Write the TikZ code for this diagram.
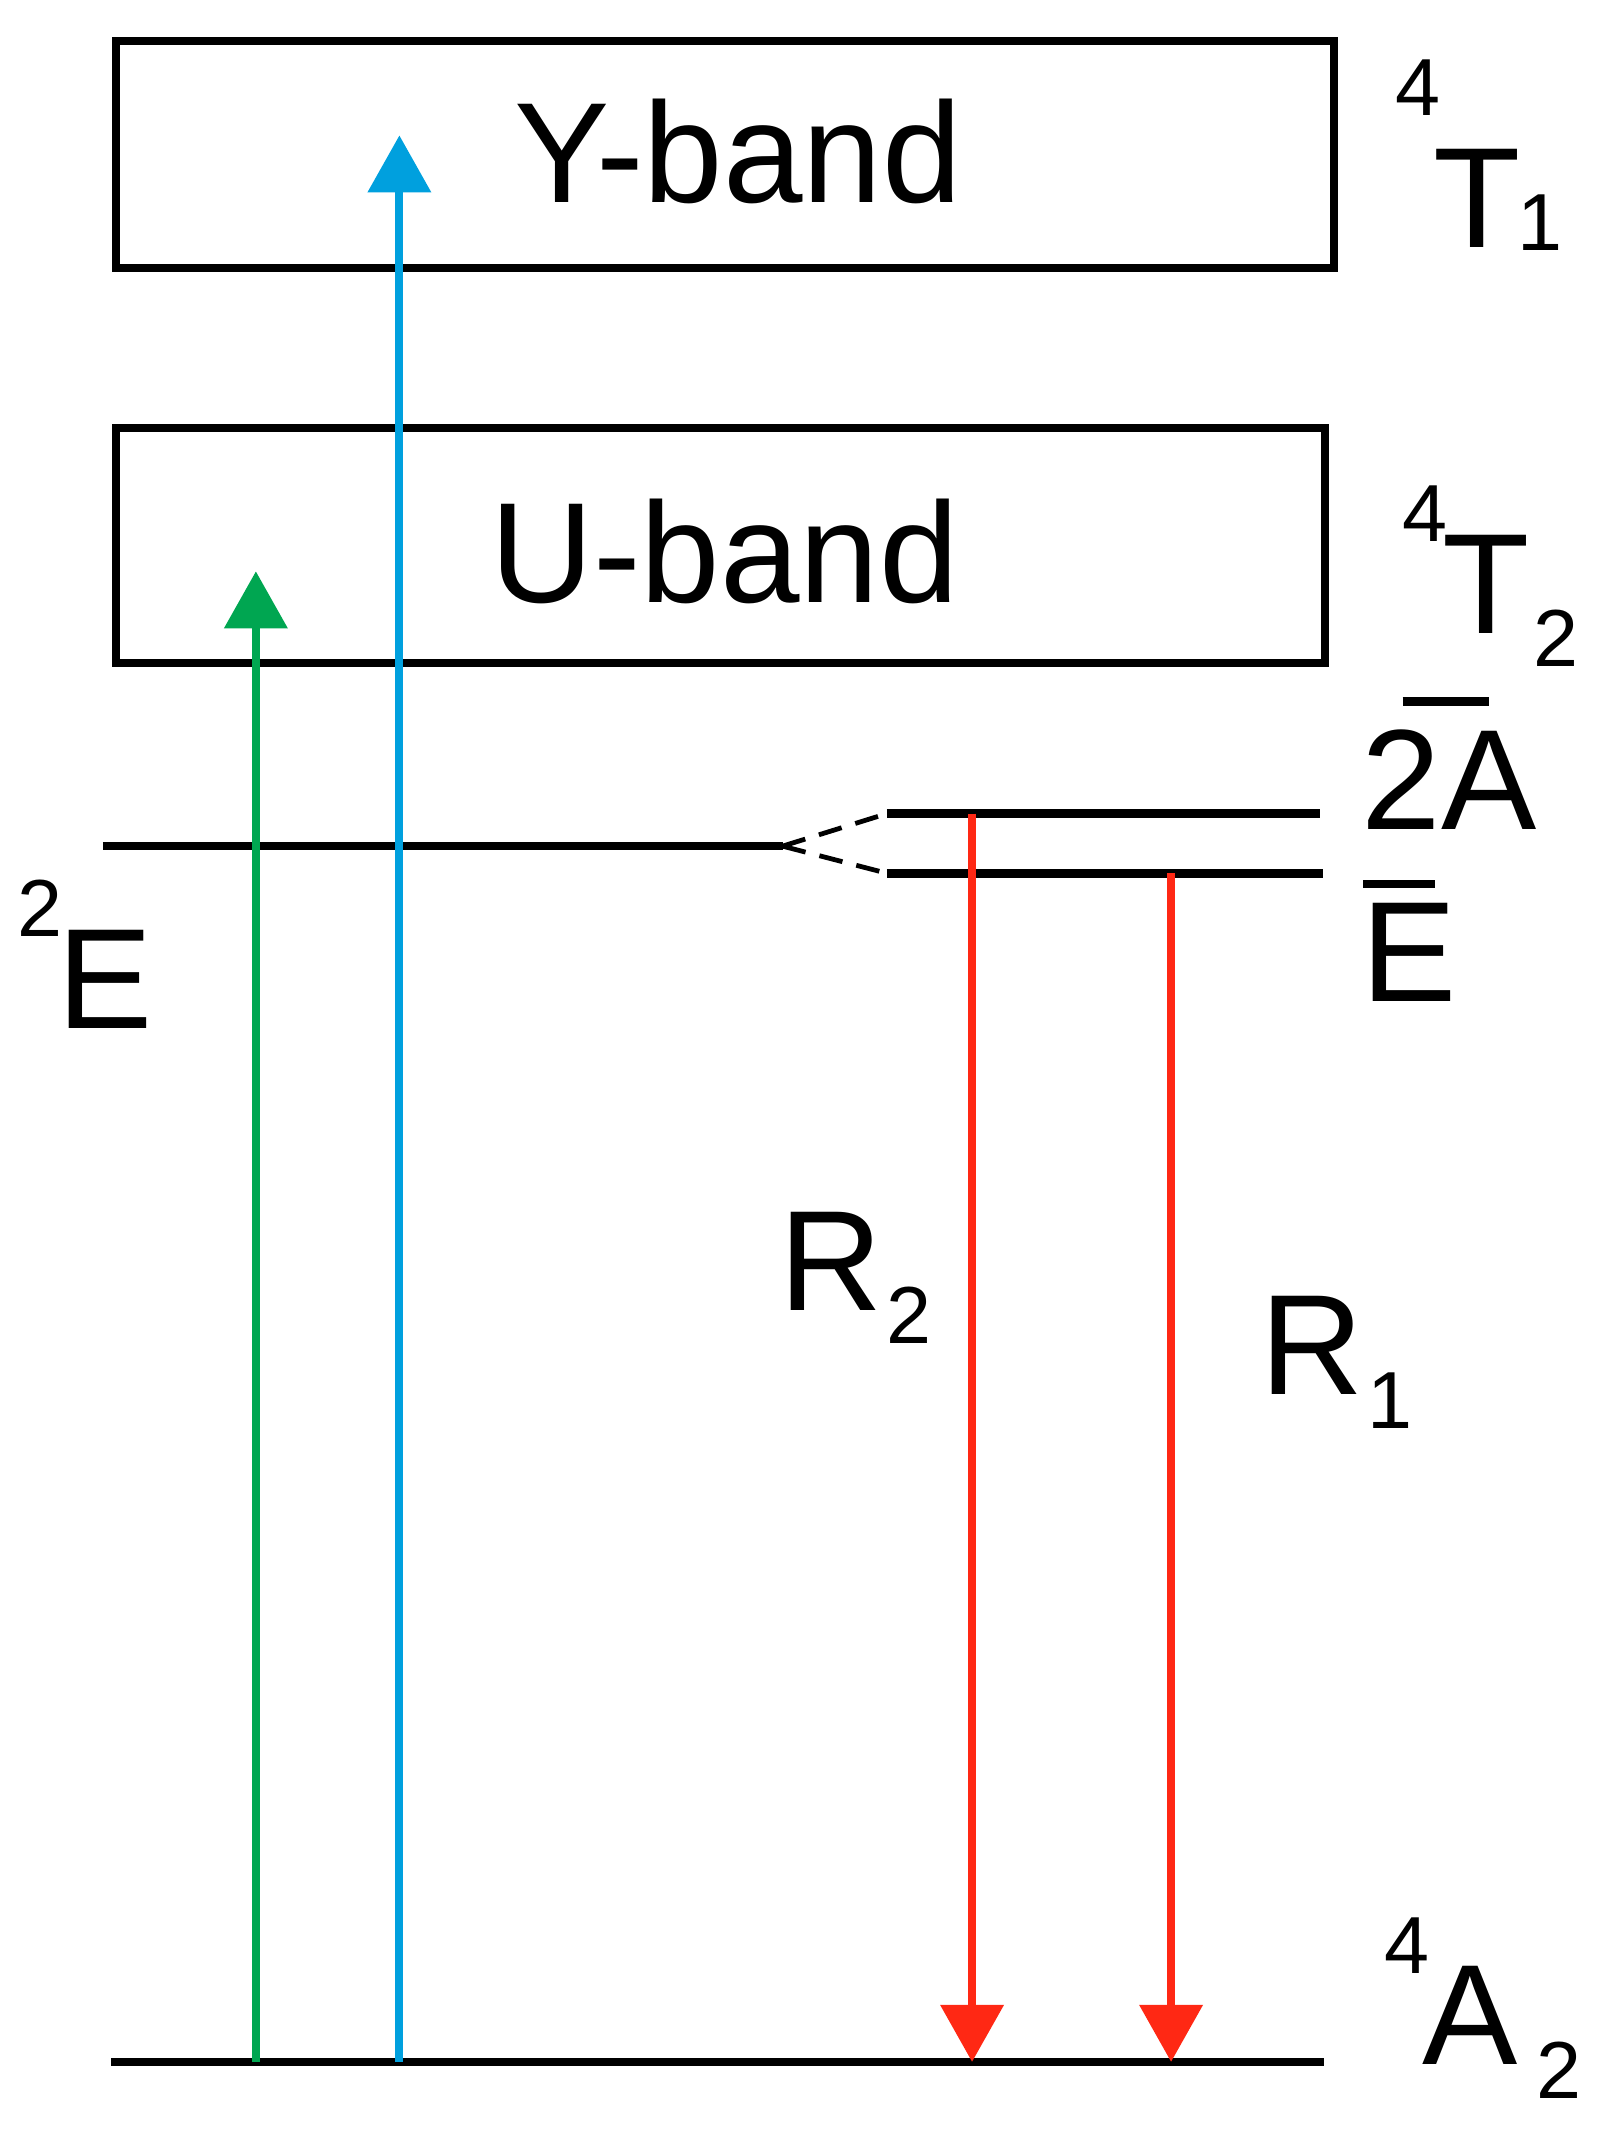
\documentclass[tikz,border=0pt]{standalone}
\usepackage{fontspec}
\setmainfont{Liberation Sans}
\usetikzlibrary{arrows.meta}
\definecolor{cgreen}{RGB}{0,166,81}
\definecolor{cblue}{RGB}{0,160,222}
\definecolor{cred}{RGB}{255,40,20}
\begin{document}
\begin{tikzpicture}[x=0.01cm,y=-0.01cm,
  lvl/.style={line width=1.8pt},
  band/.style={draw,line width=1.7pt},
  trans/.style={line width=1.7pt,-{Triangle[width=13pt,length=12pt]}},
  big/.style={inner sep=0pt,font=\fontsize{30}{30}\selectfont},
  sup/.style={inner sep=0pt,font=\fontsize{17}{17}\selectfont}]
\useasboundingbox (0,0) rectangle (1190,1577);
% bands
\draw[band] (86,30) rectangle (985,198);
\draw[band] (86,316) rectangle (979,490);
\node[big] (ytxt) at (545,112) {Y-band};
\node[big] (utxt) at (535,407) {U-band};
% levels
\coordinate (eL) at (76,625); \coordinate (eR) at (578,625);
\coordinate (aL) at (655,601); \coordinate (aR) at (975,601);
\coordinate (bL) at (655,645); \coordinate (bR) at (977,645);
\coordinate (gL) at (82,1523); \coordinate (gR) at (978,1523);
\draw[lvl] (eL)--(eR); \draw[lvl] (aL)--(aR); \draw[lvl] (bL)--(bR); \draw[lvl] (gL)--(gR);
\draw[line width=1pt,dash pattern=on 5pt off 3pt] (eR)--(aL) (eR)--(bL);
% transitions
\coordinate (g1) at (189,1523); \coordinate (g2) at (189,422);
\coordinate (b1) at (295,1523); \coordinate (b2) at (295,100);
\coordinate (r1) at (718,601); \coordinate (r2) at (718,1523);
\coordinate (s1) at (865,645); \coordinate (s2) at (865,1523);
\draw[trans,cgreen] (g1)--(g2);
\draw[trans,cblue] (b1)--(b2);
\draw[trans,cred] (r1)--(r2);
\draw[trans,cred] (s1)--(s2);
% labels
\node[big,anchor=base west] (t1) at (1058,183) {T};
\node[sup,anchor=base west] (t1s) at (1030,85) {4};
\node[sup,anchor=base west] (t1b) at (1120,185) {1};
\node[big,anchor=base west] (t2) at (1065,468) {T};
\node[sup,anchor=base west] (t2s) at (1035,400) {4};
\node[sup,anchor=base west] (t2b) at (1132,492) {2};
\node[big,anchor=base west] (a2a) at (1005,613) {2A};
\draw[line width=1.8pt] (1036,518) -- (1100,518);
\node[big,anchor=base west] (ebar) at (1005,740) {E};
\draw[line width=1.8pt] (1007,653) -- (1060,653);
\node[big,anchor=base west] (e2) at (42,760) {E};
\node[sup,anchor=base west] (e2s) at (12,692) {2};
\node[big,anchor=base west] (r2l) at (575,968) {R};
\node[sup,anchor=base west] (r2b) at (654,992) {2};
\node[big,anchor=base west] (r1l) at (930,1030) {R};
\node[sup,anchor=base west] (r1b) at (1009,1055) {1};
\node[big,anchor=base west] (a4) at (1050,1525) {A};
\node[sup,anchor=base west] (a4s) at (1022,1458) {4};
\node[sup,anchor=base west] (a4b) at (1134,1550) {2};
\end{tikzpicture}
\end{document}
